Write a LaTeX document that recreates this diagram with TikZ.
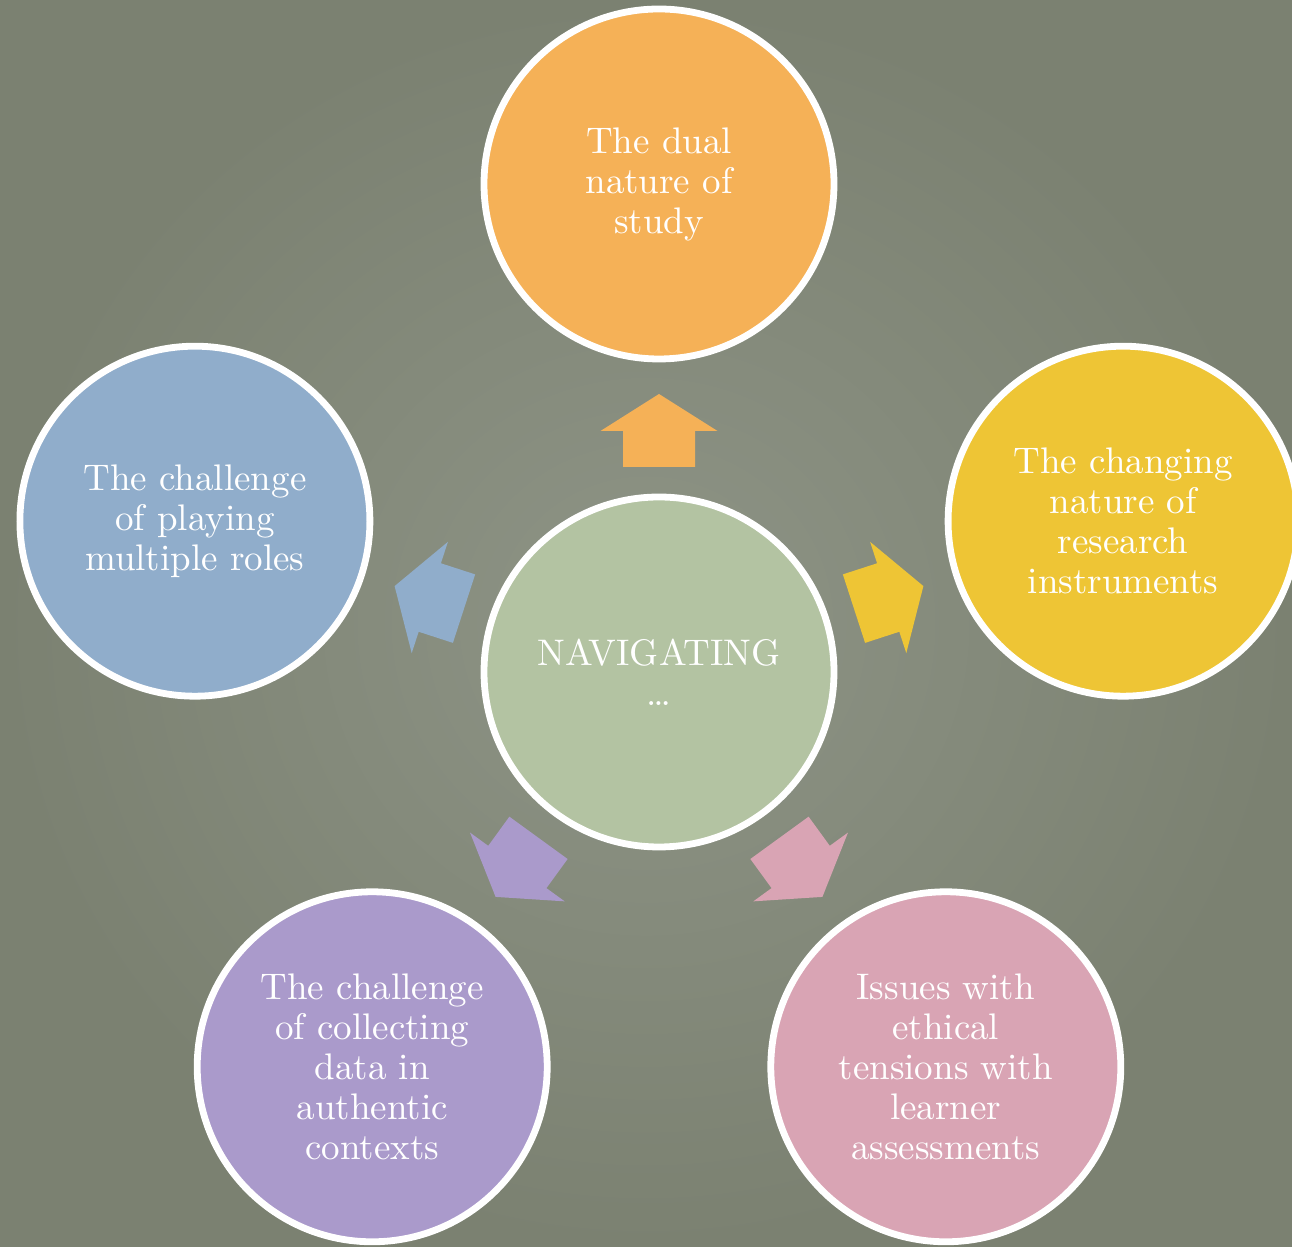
\documentclass[tikz,border=0pt]{standalone}
\usepackage{fontspec}
\newfontfamily\bubblefont{lmroman10-regular.otf}
\definecolor{bgin}{HTML}{8E9486}
\definecolor{bgout}{HTML}{7B8171}
\definecolor{corange}{HTML}{F5B157}
\definecolor{cyellow}{HTML}{EEC535}
\definecolor{cblue}{HTML}{90ADCB}
\definecolor{cpurple}{HTML}{AA9ACB}
\definecolor{cpink}{HTML}{D9A4B4}
\definecolor{cgreen}{HTML}{B3C3A2}
\begin{document}
\begin{tikzpicture}[x=0.5pt,y=0.5pt,
  bubble/.style={circle, draw=white, line width=3.4pt, minimum size=175pt,
    inner sep=0pt, text=white, align=center,
    font=\bubblefont\fontsize{18.5}{20}\selectfont},
  blockarrow/.pic={
    \fill[#1] (205,-36) -- (241,-36) -- (241,-58.5) -- (278,0)
      -- (241,58.5) -- (241,36) -- (205,36) -- cycle;
  }]
\useasboundingbox (0,0) rectangle (1292,1247);
\begin{scope}
\clip (0,0) rectangle (1292,1247);
\shade[inner color=bgin, outer color=bgout] (0,0) rectangle (1292,1247);

\node[bubble, fill=cgreen] (ctr) at (659,575) {NAVIGATING\\\dots};

\node[bubble, fill=corange] (top) at (659,1063) {The dual\\nature of\\study};
\node[bubble, fill=cyellow] (right) at (1123.1,725.8) {The changing\\nature of\\research\\instruments};
\node[bubble, fill=cpink] (bright) at (945.8,180.2) {Issues with\\ethical\\tensions with\\learner\\assessments};
\node[bubble, fill=cpurple] (bleft) at (372.2,180.2) {The challenge\\of collecting\\data in\\authentic\\contexts};
\node[bubble, fill=cblue] (left) at (194.9,725.8) {The challenge\\of playing\\multiple roles};

\path (ctr.center) pic[rotate=90] {blockarrow=corange};
\path (ctr.center) pic[rotate=18] {blockarrow=cyellow};
\path (ctr.center) pic[rotate=-54] {blockarrow=cpink};
\path (ctr.center) pic[rotate=-126] {blockarrow=cpurple};
\path (ctr.center) pic[rotate=162] {blockarrow=cblue};
\end{scope}
\end{tikzpicture}
\end{document}
